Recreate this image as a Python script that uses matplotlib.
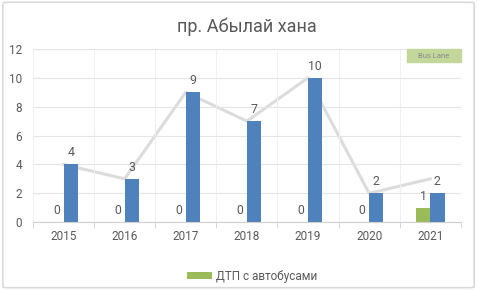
import numpy as np
import matplotlib.pyplot as plt
from matplotlib.patches import Rectangle, FancyBboxPatch

plt.rcParams['font.family'] = ['Roboto', 'DejaVu Sans']

years = ['2015', '2016', '2017', '2018', '2019', '2020', '2021']
bus_dtp = [0, 0, 0, 0, 0, 0, 1]
other_dtp = [4, 3, 9, 7, 10, 2, 2]
total_dtp = [4, 3, 9, 7, 10, 2, 3]

green = '#9bbb59'
blue = '#4f81bd'
txt = '#595959'

fig = plt.figure(figsize=(4.78, 2.90), dpi=100)
ax = fig.add_axes([0.069, 0.234, 0.895, 0.597])

x = np.arange(len(years))
w = 0.235
ax.plot(x, total_dtp, color='#dcdcdc', lw=2.2, zorder=1)
ax.bar(x - w, bus_dtp, width=w, align='edge', color=green, zorder=2,
       label='ДТП с автобусами')
ax.bar(x, other_dtp, width=w, align='edge', color=blue, zorder=2)

for xi, v in zip(x, bus_dtp):
    ax.text(xi - w / 2, v + 0.35, str(v), ha='center', va='bottom',
            fontsize=8.8, color=txt)
for xi, v in zip(x, other_dtp):
    ax.text(xi + w / 2, v + 0.35, str(v), ha='center', va='bottom',
            fontsize=8.8, color=txt)

ax.set_xlim(-0.5, len(years) - 0.5)
ax.set_ylim(0, 12)
ax.set_yticks(range(0, 13, 2))
ax.set_xticks(x)
ax.set_xticklabels(years)
ax.set_xticks(np.arange(-0.5, len(years), 1), minor=True)
ax.tick_params(axis='x', which='major', length=0, pad=6, labelsize=8.5, colors=txt)
ax.tick_params(axis='x', which='minor', length=4, color='#d0d0d0', direction='out')
ax.tick_params(axis='y', length=0, pad=8, labelsize=8.5, colors=txt)
ax.grid(axis='y', color='#e4e4e4', lw=0.8, zorder=0)
ax.grid(axis='x', which='minor', color='#f0f0f0', lw=0.8, zorder=0)
for s in ['top', 'right', 'left']:
    ax.spines[s].set_visible(False)
ax.spines['bottom'].set_color('#d0d0d0')

ax.set_title('пр. Абылай хана', fontsize=13, color=txt, pad=12)

# Bus Lane tag
ax.add_patch(Rectangle((0.875, 0.925), 0.125, 0.075, transform=ax.transAxes,
                       color='#c4d79b', zorder=3, clip_on=False))
ax.text(0.9375, 0.962, 'Bus Lane', transform=ax.transAxes, ha='center',
        va='center', fontsize=5.5, color='#8a8a8a', zorder=4)

fig.legend(loc='center left', bbox_to_anchor=(0.391, 0.048), frameon=False,
           fontsize=8.5, labelcolor=txt, handlelength=2.1, handleheight=0.5,
           handletextpad=0.34, borderpad=0, borderaxespad=0)

fig.patches.append(FancyBboxPatch((0.006, 0.008), 0.986, 0.984,
                                  boxstyle='round,pad=0,rounding_size=0.006',
                                  transform=fig.transFigure, fill=False,
                                  edgecolor='#d9d9d9', lw=1.2))

fig.savefig('out.png', dpi=100)
